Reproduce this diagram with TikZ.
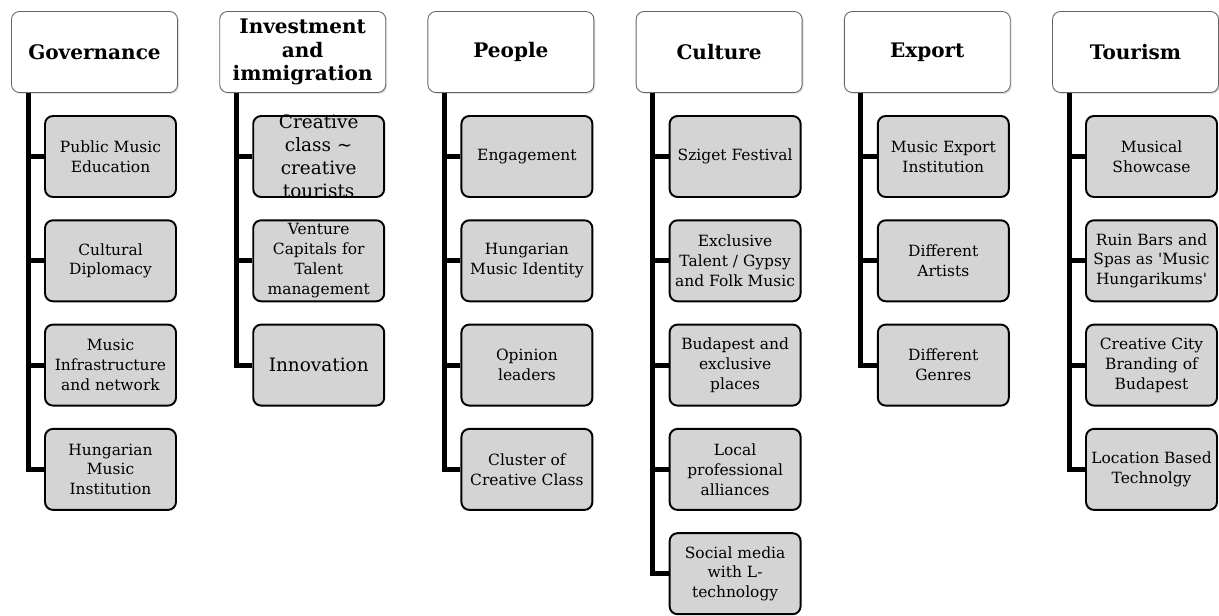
\documentclass[tikz,border=0pt]{standalone}
\usepackage{fontspec}
\setmainfont{DejaVu Serif}
\usetikzlibrary{shadows}

\begin{document}
\begin{tikzpicture}[x=0.02cm, y=-0.02cm,
  head/.style={draw=black!60, line width=0.5pt, fill=white, rounded corners=4.5pt,
    minimum width=3.32cm, minimum height=1.62cm, inner sep=1pt, align=center,
    font=\fontsize{11.4}{13.6}\selectfont\bfseries,
    drop shadow={shadow xshift=0.8pt, shadow yshift=-0.8pt, opacity=0.25}},
  item/.style={draw, line width=1.1pt, fill=black!17, rounded corners=4.5pt,
    minimum width=2.62cm, minimum height=1.62cm, inner sep=1pt, align=center,
    font=\fontsize{8.8}{11.3}\selectfont},
  big/.style={font=\fontsize{10.5}{13}\selectfont, inner ysep=-6pt},
  link/.style={line width=2.85pt}]
\useasboundingbox (0,0) rectangle (1219,615);
% headers
\node[head] (gov) at (94.5,52) {Governance};
\node[head] (inv) at (302.7,52) {Investment\\and\\immigration};
\node[head] (ppl) at (510.9,52) {People};
\node[head] (cul) at (719.1,52) {Culture};
\node[head] (exp) at (927.3,52) {Export};
\node[head] (tour) at (1135.5,52) {Tourism};
% governance
\node[item] (gov1) at (110.5,156.5) {Public Music\\Education};
\node[item] (gov2) at (110.5,260.8) {Cultural\\Diplomacy};
\node[item] (gov3) at (110.5,365.1) {Music\\Infrastructure\\and network};
\node[item] (gov4) at (110.5,469.4) {Hungarian\\Music\\Institution};
% investment
\node[item,big] (inv1) at (318.7,156.5) {Creative\\class \textasciitilde\\creative\\tourists};
\node[item] (inv2) at (318.7,260.8) {Venture\\Capitals for\\Talent\\management};
\node[item,big] (inv3) at (318.7,365.1) {Innovation};
% people
\node[item] (ppl1) at (526.9,156.5) {Engagement};
\node[item] (ppl2) at (526.9,260.8) {Hungarian\\Music Identity};
\node[item] (ppl3) at (526.9,365.1) {Opinion\\leaders};
\node[item] (ppl4) at (526.9,469.4) {Cluster of\\Creative Class};
% culture
\node[item] (cul1) at (735.1,156.5) {Sziget Festival};
\node[item] (cul2) at (735.1,260.8) {Exclusive\\Talent / Gypsy\\and Folk Music};
\node[item] (cul3) at (735.1,365.1) {Budapest and\\exclusive\\places};
\node[item] (cul4) at (735.1,469.4) {Local\\professional\\alliances};
\node[item] (cul5) at (735.1,573.7) {Social media\\with L-\\technology};
% export
\node[item] (exp1) at (943.3,156.5) {Music Export\\Institution};
\node[item] (exp2) at (943.3,260.8) {Different\\Artists};
\node[item] (exp3) at (943.3,365.1) {Different\\Genres};
% tourism
\node[item] (tour1) at (1151.5,156.5) {Musical\\Showcase};
\node[item] (tour2) at (1151.5,260.8) {Ruin Bars and\\Spas as \textquotesingle Music\\Hungarikums\textquotesingle};
\node[item] (tour3) at (1151.5,365.1) {Creative City\\Branding of\\Budapest};
\node[item] (tour4) at (1151.5,469.4) {Location Based\\Technolgy};
% branch lines
\foreach \h/\n in {gov/4, inv/3, ppl/4, cul/5, exp/3, tour/4} {
  \coordinate (\h-bar) at ([xshift=0.34cm]\h.south west);
  \draw[link] (\h-bar) |- (\h\n.west);
  \foreach \k in {1,...,\n}
    \draw[link] (\h-bar |- \h\k.west) -- (\h\k.west);
}
\end{tikzpicture}
\end{document}
